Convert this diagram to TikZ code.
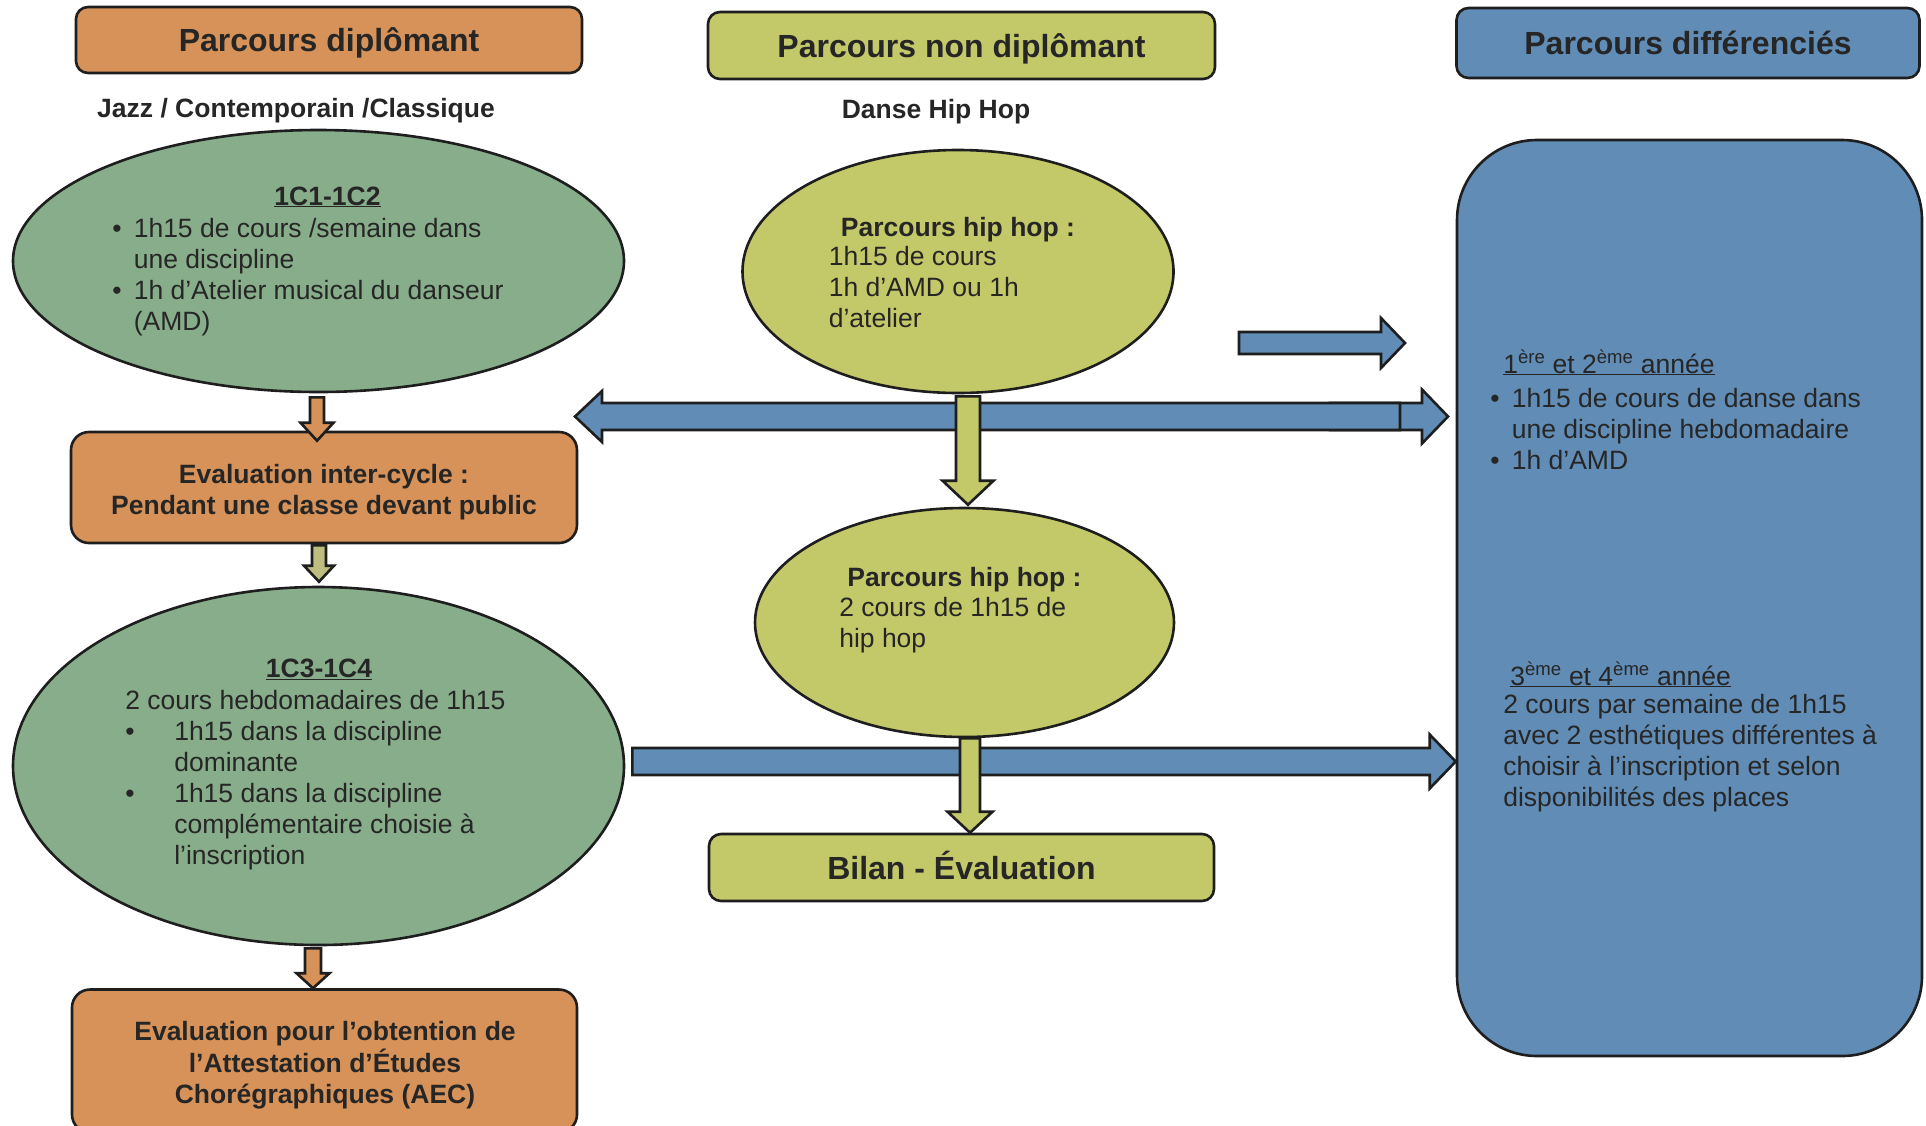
\documentclass[tikz,border=0pt]{standalone}
\usepackage{fontspec}
\setmainfont{Liberation Sans}
\usetikzlibrary{shapes.geometric,calc}

\definecolor{ink}{HTML}{262626}
\definecolor{edge}{HTML}{1E1E1E}
\definecolor{orangeC}{HTML}{D69258}
\definecolor{sageC}{HTML}{87AD8B}
\definecolor{oliveC}{HTML}{C3C969}
\definecolor{blueC}{HTML}{608CB6}
\definecolor{khakiC}{HTML}{BDBD80}

\newcommand{\bodyfont}{\fontsize{26.5}{31}\selectfont}
\newcommand{\headfont}{\fontsize{32}{38}\selectfont\bfseries}
\newcommand{\bul}[1][21.5pt]{\makebox[#1][l]{\textbullet}}

\tikzset{every picture/.style={line width=2.6pt},
  hdrbox/.style={draw=edge,rectangle,rounded corners=12pt,inner sep=0pt,text height=23pt,text depth=0pt,font=\headfont,text=ink},
  roundbox/.style={draw=edge,rectangle,rounded corners=18pt,inner sep=0pt},
  oval/.style={draw=edge,ellipse,inner sep=0pt},
  txt/.style={anchor=base west,inner sep=0pt,font=\bodyfont,text=ink},
  txtc/.style={anchor=base,inner sep=0pt,font=\bodyfont,text=ink},
  blk/.style={draw=edge,line width=2.6pt,line join=miter}
}

% block arrows: #1 tail, #2 tip, #3 body half width, #4 head half width, #5 head length, #6 fill
\newcommand{\blockdown}[6]{%
  \draw[blk,fill=#6] let \p1=(#1), \p2=(#2) in
    (\x1-#3,\y1) -- (\x1+#3,\y1) -- (\x1+#3,\y2-#5) -- (\x1+#4,\y2-#5)
    -- (\x1,\y2) -- (\x1-#4,\y2-#5) -- (\x1-#3,\y2-#5) -- cycle;}
\newcommand{\blockright}[6]{%
  \draw[blk,fill=#6] let \p1=(#1), \p2=(#2) in
    (\x1,\y1+#3) -- (\x2-#5,\y1+#3) -- (\x2-#5,\y1+#4) -- (\x2,\y1)
    -- (\x2-#5,\y1-#4) -- (\x2-#5,\y1-#3) -- (\x1,\y1-#3) -- cycle;}
\newcommand{\blockleft}[6]{%
  \draw[blk,fill=#6] let \p1=(#1), \p2=(#2) in
    (\x1,\y1+#3) -- (\x2+#5,\y1+#3) -- (\x2+#5,\y1+#4) -- (\x2,\y1)
    -- (\x2+#5,\y1-#4) -- (\x2+#5,\y1-#3) -- (\x1,\y1-#3) -- cycle;}

\begin{document}
\begin{tikzpicture}[x=1pt,y=1pt,yscale=-1,xscale=1]
\useasboundingbox (0,0) rectangle (1926,1125);

%Rounded Rect (headers)
\node[hdrbox,fill=orangeC,minimum width=506pt,minimum height=66pt] (hdip) at (329,40) {Parcours diplômant};
\node[hdrbox,fill=oliveC,minimum width=507pt,minimum height=67pt] (hnon) at (961.5,45.5) {Parcours non diplômant};
\node[hdrbox,fill=blueC,minimum width=463pt,minimum height=70pt] (hdiff) at (1688,43) {Parcours différenciés};

% Text Node
\node[txtc] (subjazz) at (296,117) {\bfseries Jazz / Contemporain /Classique};
% Text Node
\node[txtc] (subhip) at (936,118) {\bfseries Danse Hip Hop};

%Shape: Ellipse
\node[oval,fill=sageC,minimum width=611pt,minimum height=262pt] (c12) at (318.5,261) {};
%Shape: Ellipse
\node[oval,fill=sageC,minimum width=611pt,minimum height=358pt] (c34) at (318.5,766) {};
%Shape: Ellipse
\node[oval,fill=oliveC,minimum width=431pt,minimum height=243pt] (hh1) at (958,271.5) {};
%Shape: Ellipse
\node[oval,fill=oliveC,minimum width=419pt,minimum height=229pt] (hh2) at (964.5,622.5) {};

%Rounded Rect
\node[roundbox,fill=orangeC,minimum width=506pt,minimum height=111pt] (evalic) at (324,487.5) {};
%Rounded Rect
\node[roundbox,fill=orangeC,minimum width=505pt,minimum height=143pt] (aec) at (324.5,1061) {};
%Rounded Rect
\node[hdrbox,fill=oliveC,minimum width=505pt,minimum height=67pt] (bilan) at (961.5,867.5) {Bilan - Évaluation};
%Rounded Rect
\node[roundbox,rounded corners=80pt,fill=blueC,minimum width=465pt,minimum height=916pt] (bigbox) at (1689.5,598) {};

% Text Node
\node[txtc] (c12t) at (327.5,205) {\bfseries\underline{1C1-1C2}};
% Text Node
\node[txt] (c12l) at (111,237) {\begin{tabular}[t]{@{}l@{}l@{}}
  \bul & 1h15 de cours /semaine dans\\
       & une discipline\\
  \bul & 1h d’Atelier musical du danseur\\
       & (AMD)
\end{tabular}};

% Text Node
\node[txtc] (evalt) at (324,483) {\bfseries\begin{tabular}[t]{@{}c@{}}
  Evaluation inter-cycle :\\ Pendant une classe devant public\end{tabular}};

% Text Node
\node[txtc] (c34t) at (319,677) {\bfseries\underline{1C3-1C4}};
% Text Node
\node[txt] (c34l) at (124,709) {\begin{tabular}[t]{@{}l@{}l@{}}
  \multicolumn{2}{@{}l@{}}{2 cours hebdomadaires de 1h15}\\
  \bul[49pt] & 1h15 dans la discipline\\
             & dominante\\
  \bul[49pt] & 1h15 dans la discipline\\
             & complémentaire choisie à\\
             & l’inscription
\end{tabular}};

% Text Node
\node[txtc] (aect) at (325,1040) {\bfseries\begin{tabular}[t]{@{}c@{}}
  Evaluation pour l’obtention de\\ l’Attestation d’Études\\ Chorégraphiques (AEC)\end{tabular}};

% Text Node
\node[txtc] (hh1t) at (958,236) {\bfseries Parcours hip hop :};
% Text Node
\node[txt] (hh1l) at (827.5,265) {\begin{tabular}[t]{@{}l@{}}
  1h15 de cours\\ 1h d’AMD ou 1h\\ d’atelier\end{tabular}};

% Text Node
\node[txtc] (hh2t) at (964.5,586) {\bfseries Parcours hip hop :};
% Text Node
\node[txt] (hh2l) at (838,616) {\begin{tabular}[t]{@{}l@{}}
  2 cours de 1h15 de\\ hip hop\end{tabular}};

% Text Node
\node[txt] (y12t) at (1502,373) {\underline{1\textsuperscript{ère} et 2\textsuperscript{ème} année}};
% Text Node
\node[txt] (y12l) at (1489,407) {\begin{tabular}[t]{@{}l@{}l@{}}
  \bul & 1h15 de cours de danse dans\\
       & une discipline hebdomadaire\\
  \bul & 1h d’AMD
\end{tabular}};

% Text Node
\node[txt] (y34t) at (1509,685) {\underline{3\textsuperscript{ème} et 4\textsuperscript{ème} année}};
% Text Node
\node[txt] (y34l) at (1502,713) {\begin{tabular}[t]{@{}l@{}}
  2 cours par semaine de 1h15\\
  avec 2 esthétiques différentes à\\
  choisir à l’inscription et selon\\
  disponibilités des places
\end{tabular}};

% free ends of the blue arrows
\coordinate (smallS) at (1239,343);
\coordinate (smallE) at (1405,343);
\coordinate (dblS) at (1330,416.5);
\coordinate (dblM) at (1400,416.5);
\coordinate (dblR) at (1448,416.5);
\coordinate (dblL) at (575,416.5);

%Right Arrow
\blockright{smallS}{smallE}{11pt}{25pt}{24pt}{blueC}
%Right Arrow
\blockright{dblS}{dblR}{13.5pt}{27pt}{26pt}{blueC}
%Left Arrow
\blockleft{dblM}{dblL}{13.5pt}{25.5pt}{27pt}{blueC}
%Right Arrow
\blockright{$(c34.east)+(7,-4.5)$}{bigbox.west}{13.5pt}{27pt}{26pt}{blueC}

%Down Arrow
\blockdown{$(c12.south)+(-1.5,4)$}{$(evalic.north)+(0,10)$}{7pt}{16.5pt}{18pt}{orangeC}
%Down Arrow
\blockdown{$(evalic.south)+(-5,1)$}{$(c34.north)+(0,-4)$}{7pt}{15pt}{16pt}{khakiC}
%Down Arrow
\blockdown{$(c34.south)+(-5.5,2)$}{aec.north}{8pt}{16.5pt}{15pt}{orangeC}
%Down Arrow
\blockdown{$(hh1.south)+(10,2)$}{$(hh2.north)+(0,-2)$}{12pt}{25.5pt}{24pt}{oliveC}
%Down Arrow
\blockdown{$(hh2.south)+(5.5,0)$}{bilan.north}{10pt}{22.5pt}{21pt}{oliveC}

\end{tikzpicture}
\end{document}
